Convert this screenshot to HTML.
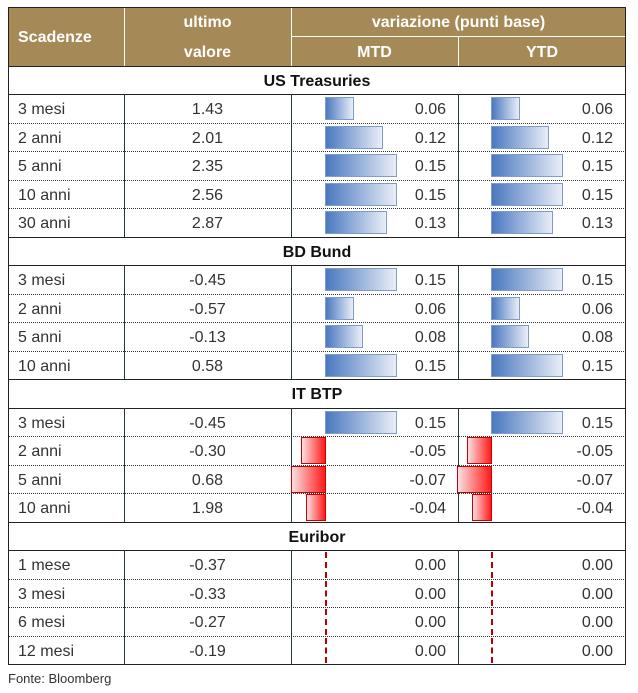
<!DOCTYPE html>
<html><head><meta charset="utf-8"><style>
body{margin:0;width:638px;height:690px;background:#fff;font-family:"Liberation Sans",sans-serif;position:relative;overflow:hidden}
.a{position:absolute}
.hd{background:#a58a57;color:#fff;font-weight:bold;font-size:15px}
.t{position:absolute;font-size:16px;color:#333;line-height:28px;margin-top:2px}
.bb{position:absolute;height:23px;background:linear-gradient(90deg,#4a78c0,#e9eef7);border:1px solid #7f9cc9;box-sizing:border-box}
.br{position:absolute;height:27px;background:linear-gradient(90deg,#fbe0e0,#ff1a1a);border:1px solid #c00;box-sizing:border-box}
</style></head><body>
<div class="a hd" style="left:8px;top:8px;width:618px;height:58px"></div>
<div class="a" style="left:124px;top:8px;width:1px;height:58px;background:#fff"></div>
<div class="a" style="left:291px;top:8px;width:1px;height:58px;background:#fff"></div>
<div class="a" style="left:458px;top:37px;width:1px;height:29px;background:#fff"></div>
<div class="a" style="left:291px;top:36px;width:335px;height:1px;background:#fff"></div>
<div class="a" style="left:8px;top:7px;width:618px;height:1px;background:#222"></div>
<div class="t" style="left:18px;top:22px;color:#fff;font-weight:bold">Scadenze</div>
<div class="t" style="left:124px;width:167px;text-align:center;top:7px;color:#fff;font-weight:bold">ultimo</div>
<div class="t" style="left:124px;width:167px;text-align:center;top:37px;color:#fff;font-weight:bold">valore</div>
<div class="t" style="left:291px;width:335px;text-align:center;top:7px;color:#fff;font-weight:bold">variazione (punti base)</div>
<div class="t" style="left:291px;width:167px;text-align:center;top:37px;color:#fff;font-weight:bold">MTD</div>
<div class="t" style="left:458px;width:168px;text-align:center;top:37px;color:#fff;font-weight:bold">YTD</div>
<div id="g"></div>
<div class="t" style="left:8px;top:663px;font-size:13px">Fonte: Bloomberg</div>
<script>
var rows=[["S","US Treasuries"],["3 mesi","1.43",.06,.06],["2 anni","2.01",.12,.12],["5 anni","2.35",.15,.15],["10 anni","2.56",.15,.15],["30 anni","2.87",.13,.13],
["S","BD Bund"],["3 mesi","-0.45",.15,.15],["2 anni","-0.57",.06,.06],["5 anni","-0.13",.08,.08],["10 anni","0.58",.15,.15],
["S","IT BTP"],["3 mesi","-0.45",.15,.15],["2 anni","-0.30",-.05,-.05],["5 anni","0.68",-.07,-.07],["10 anni","1.98",-.04,-.04],
["S","Euribor"],["1 mese","-0.37",0,0],["3 mesi","-0.33",0,0],["6 mesi","-0.27",0,0],["12 mesi","-0.19",0,0]];
var h="",y=66,H=28.48,prevS=true;
rows.forEach(function(r,i){
 var top=Math.round(y),bot=Math.round(y+H);
 if(r[0]=="S"){
  h+='<div class="a" style="left:8px;top:'+top+'px;width:618px;height:1px;background:#222"></div>';
  h+='<div class="t" style="left:8px;width:618px;text-align:center;top:'+top+'px;font-weight:bold;color:#111">'+r[1]+'</div>';
  h+='<div class="a" style="left:8px;top:'+(bot)+'px;width:618px;height:1px;background:#222"></div>';
 } else {
  if(!prevS)h+='<div class="a" style="left:8px;top:'+top+'px;width:618px;border-top:1px dotted #333"></div>';
  [124,291,458].forEach(function(x){h+='<div class="a" style="left:'+x+'px;top:'+top+'px;width:1px;height:'+(bot-top)+'px;background:#1f3b3b"></div>'});
  h+='<div class="t" style="left:18px;top:'+top+'px">'+r[0]+'</div>';
  h+='<div class="t" style="left:124px;width:167px;text-align:center;top:'+top+'px">'+r[1]+'</div>';
  [[325,r[2],291],[491,r[3],458]].forEach(function(c){
   var z=c[0],v=c[1],w=Math.round(Math.abs(v)*480);
   if(v>0)h+='<div class="bb" style="left:'+z+'px;top:'+(top+3)+'px;width:'+w+'px"></div>';
   else if(v<0)h+='<div class="br" style="left:'+(z-w)+'px;top:'+(top+1)+'px;width:'+(w+1)+'px"></div>';
   else h+='<div class="a" style="left:'+z+'px;top:'+(top+2)+'px;width:0;height:'+(bot-top-3)+'px;border-left:2px dashed #b00"></div>';
   h+='<div class="t" style="left:'+c[2]+'px;width:155px;text-align:right;top:'+top+'px">'+v.toFixed(2)+'</div>';
  });
 }
 prevS=r[0]=="S";y+=H;
});
h+='<div class="a" style="left:8px;top:'+Math.round(y)+'px;width:618px;height:1px;background:#222"></div>';
h+='<div class="a" style="left:8px;top:7px;width:1px;height:'+(Math.round(y)-7)+'px;background:#222"></div>';
h+='<div class="a" style="left:625px;top:7px;width:1px;height:'+(Math.round(y)-7)+'px;background:#222"></div>';
document.getElementById("g").innerHTML=h;
</script>
</body></html>
